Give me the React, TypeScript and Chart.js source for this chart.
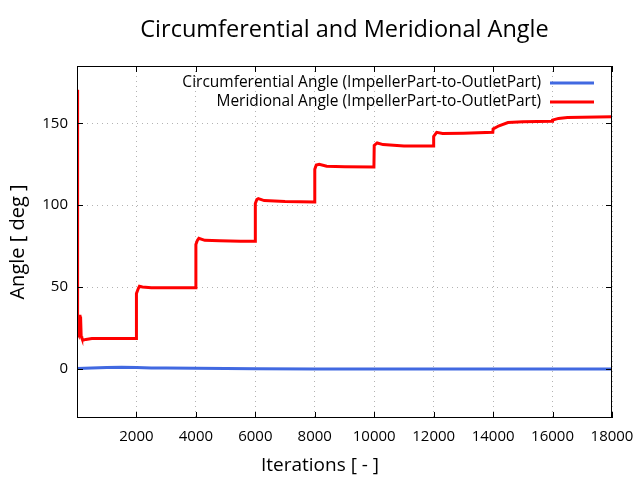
import React, { useEffect, useRef } from 'react';
import { Chart, registerables } from 'chart.js';

Chart.register(...registerables);

// ---- data ----
const meridionalIterations = [
  0, 10, 30, 50, 80, 100, 120, 140, 160, 200, 300, 500, 1000, 1500, 1990,
  2000, 2050, 2100, 2200, 2500, 3000, 3500, 3990,
  4000, 4050, 4100, 4300, 4800, 5500, 5990,
  6000, 6050, 6100, 6300, 7000, 7990,
  8000, 8050, 8150, 8400, 9000, 9990,
  10000, 10100, 10300, 11000, 11990,
  12000, 12100, 12300, 13000, 13990,
  14000, 14200, 14500, 15000, 15990,
  16000, 16200, 16500, 17000, 18000,
];
const meridionalAngle = [
  170.5, 120, 22, 21, 33, 25, 32, 20, 19, 17.5, 18, 18.5, 18.5, 18.6, 18.5,
  46, 48.5, 50.5, 50, 49.6, 49.5, 49.5, 49.5,
  76, 78.5, 79.8, 78.5, 78.2, 78, 78,
  101, 103.5, 104, 102.8, 102.3, 102,
  122, 124.5, 125, 123.8, 123.5, 123.3,
  136.5, 138, 137, 136.2, 136.2,
  142, 144.5, 143.8, 144, 144.5,
  146.5, 148.5, 150.5, 151, 151.2,
  152, 153, 153.5, 153.7, 154,
];
const circumferentialIterations = [0, 500, 1000, 1500, 2000, 2500, 3000, 4000, 5000, 6000, 8000, 10000, 14000, 18000];
const circumferentialAngle = [0.3, 0.6, 0.8, 1.0, 0.9, 0.6, 0.5, 0.4, 0.2, 0.1, 0.0, 0.0, 0.0, 0.0];

const xTickValues = [2000, 4000, 6000, 8000, 10000, 12000, 14000, 16000, 18000];
const yTickValues = [0, 50, 100, 150];

const chartTitle = 'Circumferential and Meridional Angle';
const xAxisTitle = 'Iterations [ - ]';
const yAxisTitle = 'Angle [ deg ]';
const circumferentialLabel = 'Circumferential Angle (ImpellerPart-to-OutletPart)';
const meridionalLabel = 'Meridional Angle (ImpellerPart-to-OutletPart)';

const FONT = '"Open Sans", "DejaVu Sans", sans-serif';
const BLUE = 'rgb(65,105,225)';
const RED = 'rgb(255,0,0)';

const framePlugin = {
  id: 'gnuplotFrame',
  afterDraw(chart: any) {
    const { ctx, chartArea } = chart;
    const { left, right, top, bottom } = chartArea;
    const xs = chart.scales.x;
    const ys = chart.scales.y;
    ctx.save();
    // border
    ctx.strokeStyle = '#000';
    ctx.lineWidth = 1;
    ctx.strokeRect(Math.round(left) + 0.5, Math.round(top) + 0.5, Math.round(right - left) - 1, Math.round(bottom - top) - 1);
    // inward ticks
    const tl = 6;
    ctx.beginPath();
    xTickValues.forEach((v) => {
      const px = Math.round(xs.getPixelForValue(v)) + 0.5;
      ctx.moveTo(px, bottom);
      ctx.lineTo(px, bottom - tl);
      ctx.moveTo(px, top);
      ctx.lineTo(px, top + tl);
    });
    yTickValues.forEach((v) => {
      const py = Math.round(ys.getPixelForValue(v)) + 0.5;
      ctx.moveTo(left, py);
      ctx.lineTo(left + tl, py);
      ctx.moveTo(right, py);
      ctx.lineTo(right - tl, py);
    });
    ctx.stroke();

    // title
    ctx.fillStyle = '#000';
    ctx.textAlign = 'center';
    ctx.textBaseline = 'middle';
    ctx.font = `23.5px ${FONT}`;
    ctx.fillText(chartTitle, (left + right) / 2, 30);
    // x axis title
    ctx.font = `19px ${FONT}`;
    ctx.fillText(xAxisTitle, 320, 466);

    // legend
    ctx.font = `15.5px ${FONT}`;
    ctx.textAlign = 'right';
    const rows = [
      { label: circumferentialLabel, color: BLUE, y: 83 },
      { label: meridionalLabel, color: RED, y: 102 },
    ];
    rows.forEach((r) => {
      ctx.fillStyle = '#000';
      ctx.fillText(r.label, 541, r.y);
      ctx.strokeStyle = r.color;
      ctx.lineWidth = 3;
      ctx.beginPath();
      ctx.moveTo(550, r.y);
      ctx.lineTo(594, r.y);
      ctx.stroke();
    });
    ctx.restore();
  },
};

export default function App() {
  const canvasRef = useRef<HTMLCanvasElement | null>(null);

  useEffect(() => {
    if (!canvasRef.current) return;
    const chart = new Chart(canvasRef.current, {
      type: 'line',
      data: {
        datasets: [
          {
            label: circumferentialLabel,
            data: circumferentialIterations.map((x, i) => ({ x, y: circumferentialAngle[i] })),
            borderColor: BLUE,
            backgroundColor: BLUE,
            borderWidth: 3,
            pointRadius: 0,
            tension: 0,
          },
          {
            label: meridionalLabel,
            data: meridionalIterations.map((x, i) => ({ x, y: meridionalAngle[i] })),
            borderColor: RED,
            backgroundColor: RED,
            borderWidth: 3,
            pointRadius: 0,
            tension: 0,
          },
        ],
      },
      options: {
        animation: false,
        responsive: true,
        maintainAspectRatio: false,
        devicePixelRatio: 1,
        layout: { padding: { top: 66, right: 28, left: 0, bottom: 0 } },
        plugins: {
          legend: { display: false },
          title: { display: false },
          tooltip: { enabled: false },
        },
        scales: {
          x: {
            type: 'linear',
            min: 0,
            max: 18000,
            afterBuildTicks: (scale: any) => {
              scale.ticks = xTickValues.map((v) => ({ value: v }));
            },
            afterFit: (scale: any) => {
              scale.height = 62;
              scale.paddingLeft = 0;
              scale.paddingRight = 0;
            },
            grid: {
              color: 'rgba(160,160,160,0.8)',
              lineWidth: 1,
              drawTicks: false,
            },
            border: { display: false, dash: [1, 4] },
            ticks: {
              color: '#000',
              font: { family: FONT, size: 15 },
              padding: 10,
              maxRotation: 0,
              autoSkip: false,
              callback: (v: any) => String(v),
            },
          },
          y: {
            type: 'linear',
            min: -30,
            max: 185,
            afterBuildTicks: (scale: any) => {
              scale.ticks = yTickValues.map((v) => ({ value: v }));
            },
            afterFit: (scale: any) => {
              scale.width = 77;
              scale.paddingTop = 0;
              scale.paddingBottom = 0;
            },
            grid: {
              color: 'rgba(160,160,160,0.8)',
              lineWidth: 1,
              drawTicks: false,
            },
            border: { display: false, dash: [1, 4] },
            ticks: {
              color: '#000',
              font: { family: FONT, size: 15 },
              padding: 9,
              autoSkip: false,
              callback: (v: any) => String(v),
            },
            title: {
              display: true,
              text: yAxisTitle,
              color: '#000',
              font: { family: FONT, size: 20 },
              padding: { top: 6, bottom: 0 },
            },
          },
        },
      },
      plugins: [framePlugin],
    } as any);
    return () => chart.destroy();
  }, []);

  return (
    <div style={{ position: 'fixed', left: 0, top: 0, width: 640, height: 480, background: '#fff' }}>
      <canvas ref={canvasRef} />
    </div>
  );
}
